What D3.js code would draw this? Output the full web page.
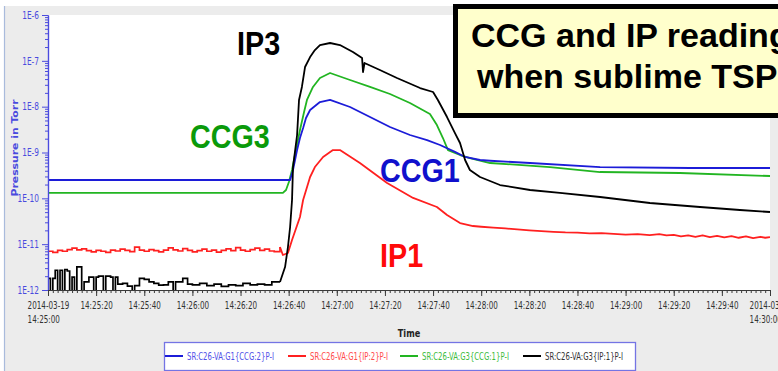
<!DOCTYPE html>
<html>
<head>
<meta charset="utf-8">
<script src="https://cdn.jsdelivr.net/npm/d3@7"></script>
<style>
  html, body { margin: 0; padding: 0; background: #fff; }
  svg { display: block; }
</style>
</head>
<body>
<svg id="chart" width="778" height="371"></svg>
<script>
// ---- axis ticks (time in seconds after 2014-03-19 14:25:00) ----
const tickSeconds = [0, 20, 40, 60, 80, 100, 120, 140, 160, 180, 200, 220, 240, 260, 280, 300];
const tickLabels = ["2014-03-19\n14:25:00", "14:25:20", "14:25:40", "14:26:00", "14:26:20", "14:26:40",
  "14:27:00", "14:27:20", "14:27:40", "14:28:00", "14:28:20", "14:28:40", "14:29:00", "14:29:20",
  "14:29:40", "2014-03-19\n14:30:00"];
const decadeTicks = [1e-12, 1e-11, 1e-10, 1e-9, 1e-8, 1e-7, 1e-6];
const decadeLabels = ["1E-12", "1E-11", "1E-10", "1E-9", "1E-8", "1E-7", "1E-6"];

// ---- series (PV names, colours) ----
const seriesNames = ["SR:C26-VA:G1{CCG:2}P-I", "SR:C26-VA:G1{IP:2}P-I", "SR:C26-VA:G3{CCG:1}P-I", "SR:C26-VA:G3{IP:1}P-I"];
const seriesColors = ["#1c1cd8", "#ff2020", "#22b522", "#000000"];
const legendTextColors = ["#5050e8", "#ff4a4a", "#3cbc3c", "#333333"];

// G1 CCG:2  (seconds, Torr)
const ccg2Time = [0, 100.6, 101.8, 103.5, 104.7, 106.0, 107.2, 108.9, 113.0, 117.2, 125.5, 133.8, 142.1, 150.4,
  157.5, 162.9, 169.1, 173.3, 179.5, 183.7, 200.3, 229.4, 266.8, 300];
const ccg2Torr = [2.51e-10, 2.51e-10, 4.15e-10, 1.13e-9, 2.07e-9, 3.42e-9, 5.66e-9, 8.45e-9, 1.26e-8, 1.40e-8,
  9.84e-9, 5.94e-9, 3.60e-9, 2.41e-9, 1.87e-9, 1.46e-9, 1.03e-9, 7.98e-10, 6.86e-10, 6.6e-10, 5.90e-10,
  4.82e-10, 4.59e-10, 4.59e-10];

// G3 CCG:1
const ccg1Time = [0, 97.6, 98.9, 100.1, 101.4, 103.0, 104.7, 106.4, 107.6, 110.1, 113.0, 117.2, 125.5, 133.8,
  142.1, 150.4, 158.7, 161.6, 164.1, 166.2, 171.2, 175.3, 183.7, 208.6, 229.4, 262.6, 300];
const ccg1Torr = [1.31e-10, 1.31e-10, 1.52e-10, 2.27e-10, 4.15e-10, 1.13e-9, 3.10e-9, 7.64e-9, 1.40e-8, 2.69e-8,
  4.22e-8, 5.42e-8, 3.82e-8, 2.69e-8, 1.89e-8, 1.20e-8, 6.92e-9, 3.98e-9, 2.07e-9, 1.13e-9, 8.81e-10,
  7.58e-10, 5.90e-10, 4.82e-10, 3.75e-10, 3.57e-10, 3.07e-10];

// G1 IP:2
const ip2Time = [0, 2, 4, 6, 8, 10, 12, 14, 16, 18, 20, 22, 24, 26, 28, 30, 32, 34, 36, 38, 40, 42, 44, 46,
  48, 50, 52, 54, 56, 58, 60, 62, 64, 66, 68, 70, 72, 74, 76, 78, 80, 82, 84, 86, 88, 90, 92, 94,
  96.4, 97.6, 99.7, 101.4, 104.7, 106.0, 108.9, 110.9, 114.3, 118.4, 121.3, 129.6, 140.9, 151.7, 161.6,
  165.8, 171.2, 176.6, 180, 185, 190, 195, 200, 205, 210, 215, 220, 225, 230, 235, 240, 245, 250, 254,
  257, 260, 263, 266, 269, 272, 275, 278, 281, 284, 287, 290, 293, 296, 298, 300];
const ip2Torr = [7.0e-12, 6.6e-12, 7.3e-12, 7.0e-12, 7.6e-12, 8.2e-12, 7.5e-12, 7.9e-12, 7.2e-12, 6.8e-12,
  7.3e-12, 7.0e-12, 6.6e-12, 7.4e-12, 7.1e-12, 7.8e-12, 7.3e-12, 6.9e-12, 8.6e-12, 7.4e-12, 7.0e-12,
  7.6e-12, 7.2e-12, 6.8e-12, 7.4e-12, 8.3e-12, 7.5e-12, 7.1e-12, 8.0e-12, 7.3e-12, 6.8e-12, 7.2e-12,
  7.8e-12, 7.0e-12, 7.4e-12, 6.7e-12, 7.3e-12, 7.9e-12, 7.2e-12, 8.4e-12, 7.4e-12, 7.0e-12, 7.6e-12,
  8.2e-12, 7.3e-12, 7.8e-12, 7.1e-12, 6.9e-12,
  8.67e-12, 5.80e-12, 6.41e-12, 1.23e-11, 3.91e-11, 9.19e-11, 2.92e-10, 4.82e-10, 7.98e-10, 1.13e-9,
  1.13e-9, 5.90e-10, 2.16e-10, 1.02e-10, 6.47e-11, 4.33e-11, 2.89e-11, 2.49e-11, 2.4e-11, 2.3e-11,
  2.2e-11, 2.1e-11, 2.0e-11, 1.92e-11, 1.85e-11, 1.8e-11, 1.78e-11, 1.72e-11, 1.75e-11, 1.68e-11,
  1.62e-11, 1.66e-11, 1.58e-11, 1.65e-11, 1.55e-11, 1.6e-11, 1.48e-11, 1.56e-11, 1.45e-11, 1.55e-11,
  1.42e-11, 1.52e-11, 1.4e-11, 1.5e-11, 1.38e-11, 1.48e-11, 1.36e-11, 1.45e-11, 1.38e-11, 1.42e-11];

// G3 IP:1  (readings under 1E-12 fall off the bottom of the scale)
const ip1Time = [0, 1, 2, 3, 4, 5, 6, 7, 8, 9, 10, 11, 12, 14, 15, 17, 19, 20, 21, 23, 24, 26, 27, 28, 29,
  31, 33, 35, 36, 38, 40, 42, 44, 46, 48, 50, 52, 53, 56, 58, 60, 63, 66, 69, 72, 75, 78, 81, 84, 87, 90,
  93, 96.4, 98.5, 99.7, 100.6, 101.4, 101.8, 103.5, 104.3, 105.5, 106.8, 108.9, 110.9, 113.0, 117.2,
  121.3, 126.7, 130.5, 130.9, 131.5, 137.9, 145.0, 154.6, 160.0, 162.0, 165.8, 169.1, 171.2, 173.3,
  175.3, 179.5, 187.8, 200.3, 212.7, 229.4, 250.1, 270.9, 287.5, 300];
const ip1Torr = [1.8e-12, 5e-13, 1.8e-12, 2.7e-12, 5e-13, 2.7e-12, 6e-13, 2.8e-12, 2.6e-12, 5e-13, 1.9e-12,
  5e-13, 3.2e-12, 6e-13, 1.5e-12, 1.9e-12, 5e-13, 1.9e-12, 2.0e-12, 5e-13, 2.0e-12, 1.9e-12, 6e-13,
  1.9e-12, 1.35e-12, 1.4e-12, 1.22e-12, 6e-13, 1.25e-12, 1.8e-12, 1.7e-12, 1.5e-12, 1.4e-12, 1.28e-12,
  1.3e-12, 1.5e-12, 6e-13, 1.5e-12, 1.8e-12, 1.35e-12, 1.3e-12, 1.4e-12, 1.25e-12, 1.35e-12, 1.2e-12,
  1.3e-12, 1.25e-12, 1.4e-12, 1.3e-12, 1.35e-12, 1.3e-12, 1.5e-12,
  1.49e-12, 3.17e-12, 8.67e-12, 2.37e-11, 9.19e-11, 4.82e-10, 2.41e-9, 1.40e-8, 2.69e-8, 7.33e-8,
  1.21e-7, 1.72e-7, 2.21e-7, 2.45e-7, 2.21e-7, 1.56e-7, 1.15e-7, 5.70e-8, 8.97e-8, 6.31e-8, 4.22e-8,
  2.55e-8, 2.09e-8, 1.40e-8, 5.94e-9, 2.66e-9, 1.61e-9, 6.86e-10, 4.15e-10, 2.92e-10, 1.95e-10,
  1.52e-10, 1.31e-10, 1.07e-10, 7.91e-11, 6.47e-11, 5.56e-11, 5.03e-11];

// draw order: CCG traces below, ion pumps above; ion pump baselines are stepped (raw noise)
const traces = [
  { time: ccg1Time, torr: ccg1Torr, color: seriesColors[2], stepUntil: -1 },
  { time: ccg2Time, torr: ccg2Torr, color: seriesColors[0], stepUntil: -1 },
  { time: ip2Time, torr: ip2Torr, color: seriesColors[1], stepUntil: 96.4 },
  { time: ip1Time, torr: ip1Torr, color: seriesColors[3], stepUntil: 96.4 }
];

const W = 778, H = 371;
const plot = { left: 48, right: 770, top: 15, bottom: 290 };

const svg = d3.select("#chart");

// condense text horizontally by a factor
function squeeze(sel, k) {
  sel.each(function () {
    const w = this.getComputedTextLength();
    d3.select(this).attr("textLength", w * k).attr("lengthAdjust", "spacingAndGlyphs");
  });
}

// widget background
svg.append("rect").attr("width", W).attr("height", H).attr("fill", "#ffffff");
svg.append("rect").attr("x", 5).attr("y", 6).attr("width", W - 5).attr("height", H - 6).attr("fill", "#ececec");
svg.append("line").attr("x1", 4.5).attr("x2", 4.5).attr("y1", 6).attr("y2", H)
  .attr("stroke", "#a9bbdc").attr("stroke-width", 1.2);

// plot area
svg.append("rect").attr("x", plot.left).attr("y", plot.top)
  .attr("width", plot.right - plot.left).attr("height", plot.bottom - plot.top).attr("fill", "#ffffff");

const x = d3.scaleLinear().domain([0, 300]).range([plot.left, plot.right]);
const y = d3.scaleLog().domain([1e-12, 1e-6]).range([plot.bottom, plot.top]);

svg.append("defs").append("clipPath").attr("id", "plotClip")
  .append("rect").attr("x", plot.left).attr("y", plot.top)
  .attr("width", plot.right - plot.left).attr("height", plot.bottom - plot.top + 0.5);

// traces
const lines = svg.append("g").attr("clip-path", "url(#plotClip)");
traces.forEach(tr => {
  const pts = tr.time.map((t, i) => [t, tr.torr[i]]);
  const stepped = pts.filter(d => d[0] <= tr.stepUntil);
  const smooth = pts.filter(d => d[0] >= tr.stepUntil);
  const stepLine = d3.line().x(d => x(d[0])).y(d => y(d[1])).curve(d3.curveStepAfter);
  const linLine = d3.line().x(d => x(d[0])).y(d => y(d[1]));
  if (stepped.length > 1) {
    lines.append("path").attr("d", stepLine(stepped)).attr("fill", "none")
      .attr("stroke", tr.color).attr("stroke-width", 1.7).attr("stroke-linejoin", "miter");
  }
  lines.append("path").attr("d", linLine(smooth)).attr("fill", "none")
    .attr("stroke", tr.color).attr("stroke-width", 1.8).attr("stroke-linejoin", "round");
});

// y axis (log)
const axisBlue = "#4a4ade";
const minorY = [];
decadeTicks.slice(0, -1).forEach(d => { for (let m = 2; m <= 9; m++) minorY.push(d * m); });
const gyMinor = svg.append("g").attr("transform", `translate(${plot.left},0)`)
  .call(d3.axisLeft(y).tickValues(minorY).tickFormat("").tickSize(3).tickSizeOuter(0));
const gy = svg.append("g").attr("transform", `translate(${plot.left},0)`)
  .call(d3.axisLeft(y).tickValues(decadeTicks).tickFormat((d, i) => decadeLabels[i])
    .tickSize(6).tickPadding(3).tickSizeOuter(0));
[gyMinor, gy].forEach(g => {
  g.attr("color", axisBlue);
  g.selectAll("line").attr("stroke-width", 1);
  g.select(".domain").attr("stroke-width", 1.2);
});
gy.selectAll("text").attr("font-family", "DejaVu Sans").attr("font-size", 10).attr("fill", axisBlue);
squeeze(gy.selectAll("text"), 0.74);

// x axis (time)
const minorX = d3.range(0, 301, 2);
const gxMinor = svg.append("g").attr("transform", `translate(0,${plot.bottom})`)
  .call(d3.axisBottom(x).tickValues(minorX).tickFormat("").tickSize(3).tickSizeOuter(0));
const gx = svg.append("g").attr("transform", `translate(0,${plot.bottom})`)
  .call(d3.axisBottom(x).tickValues(tickSeconds).tickFormat((d, i) => tickLabels[i])
    .tickSize(6).tickSizeOuter(0));
[gxMinor, gx].forEach(g => { g.attr("color", "#3a3a3a"); g.selectAll("line").attr("stroke-width", 1); });
gx.selectAll(".tick text").each(function (d, i) {
  const parts = tickLabels[i].split("\n");
  const t = d3.select(this);
  t.text(null).attr("dy", null).attr("y", null)
    .attr("font-family", "DejaVu Sans").attr("font-size", 10).attr("fill", "#333");
  const spans = parts.map((s, j) => t.append("tspan").attr("x", 0).attr("y", 19 + j * 13.5).text(s));
  spans.forEach(sp => squeeze(sp, 0.72));
  if (parts.length > 1) {
    t.attr("text-anchor", "start");
    const w0 = +spans[0].attr("textLength");
    spans.forEach(sp => sp.attr("x", -w0 / 2));
  }
});

// axis titles
const yTitle = svg.append("text").attr("transform", "translate(17.5,148) rotate(-90)")
  .attr("text-anchor", "middle").attr("font-family", "DejaVu Sans").attr("font-weight", "bold")
  .attr("font-size", 8.5).attr("fill", axisBlue).text("Pressure in Torr");
yTitle.attr("textLength", 97).attr("lengthAdjust", "spacingAndGlyphs");
const xTitle = svg.append("text").attr("x", (plot.left + plot.right) / 2).attr("y", 336.5)
  .attr("text-anchor", "middle").attr("font-family", "DejaVu Sans").attr("font-weight", "bold")
  .attr("font-size", 10.5).attr("fill", "#222").text("Time");
squeeze(xTitle, 0.78);

// legend
const legend = svg.append("g");
legend.append("rect").attr("x", 164.5).attr("y", 342.5).attr("width", 471).attr("height", 28)
  .attr("fill", "#ffffff").attr("stroke", "#7474e4").attr("stroke-width", 1.3);
const legendX = [165, 288, 400, 523];
seriesNames.forEach((name, i) => {
  legend.append("line").attr("x1", legendX[i]).attr("x2", legendX[i] + 18).attr("y1", 356).attr("y2", 356)
    .attr("stroke", seriesColors[i]).attr("stroke-width", 2);
  const tx = legend.append("text").attr("x", legendX[i] + 22).attr("y", 359.8)
    .attr("font-family", "DejaVu Sans").attr("font-size", 10).attr("fill", legendTextColors[i]).text(name);
  squeeze(tx, 0.69);
});

// trace annotations
const notes = [
  { text: "IP3", x: 237, y: 55, color: "#000000" },
  { text: "CCG3", x: 190, y: 148, color: "#0a9a0a" },
  { text: "CCG1", x: 380, y: 182, color: "#1010cc" },
  { text: "IP1", x: 380, y: 267, color: "#ff0a0a" }
];
notes.forEach(n => {
  const t = svg.append("text").attr("x", n.x).attr("y", n.y)
    .attr("font-family", "Liberation Sans, Arial, sans-serif").attr("font-weight", "bold")
    .attr("font-size", 33).attr("fill", n.color).text(n.text);
  squeeze(t, 0.87);
});

// caption box
svg.append("rect").attr("x", 455.5).attr("y", 6.5).attr("width", 340).attr("height", 109)
  .attr("fill", "#ffffcc").attr("stroke", "#000").attr("stroke-width", 5);
svg.append("text").attr("x", 471).attr("y", 47).attr("font-family", "Liberation Sans, Arial, sans-serif")
  .attr("font-weight", "bold").attr("font-size", 34).attr("fill", "#000").text("CCG and IP reading");
svg.append("text").attr("x", 477).attr("y", 88).attr("font-family", "Liberation Sans, Arial, sans-serif")
  .attr("font-weight", "bold").attr("font-size", 34).attr("fill", "#000").text("when sublime TSP");
</script>
</body>
</html>
